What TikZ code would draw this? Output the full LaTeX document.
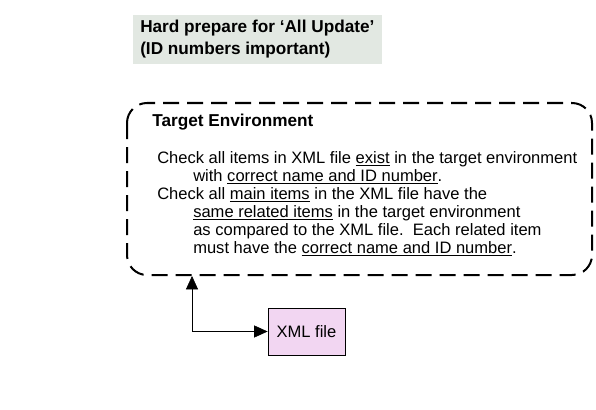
\documentclass[tikz,border=0pt]{standalone}
\usepackage{fontspec}
\setmainfont{Liberation Sans}
\usetikzlibrary{arrows.meta}

\definecolor{titlegray}{RGB}{226,232,226}
\definecolor{filepink}{RGB}{242,214,242}

\begin{document}
\begin{tikzpicture}[x=0.75pt,y=-0.75pt]
    \tikzset{line/.style    = {anchor=base west, inner sep=0pt,
        font=\fontsize{12.4}{14}\selectfont},
      heading/.style = {line, font=\bfseries\fontsize{12.9}{15}\selectfont},
      envbox/.style = {draw, line width=1.5pt, dash pattern=on 12pt off 6pt,
        rounded corners=15pt},
      link/.style   = {thin, {Triangle[length=10pt,width=9pt]}-{Triangle[length=10pt,width=9pt]}}}
    
    \useasboundingbox (0,0) rectangle (596,410);
    
    % Title banner.
    \fill[titlegray] (133,15) rectangle (382,64);
    \node[heading] (title1) at (140,33) {Hard prepare for ‘All Update’};
    \node[heading] (title2) at (140,55) {(ID numbers important)};
    
    % The target environment.
    \draw[envbox] (127,103) rectangle (592,275);
    \coordinate (env) at (192,276);
    \node[heading] (envname) at (152,127) {Target Environment};
    
    \def\Cx{157};
    \def\Ix{193};
    \node[line] (l1) at (\Cx,163) {Check all items in XML file \underline{exist} in the target environment};
    \node[line] (l2) at (\Ix,181) {with \underline{correct name and ID number}.};
    \node[line] (l3) at (\Cx,199) {Check all \underline{main items} in the XML file have the};
    \node[line] (l4) at (\Ix,217) {\underline{same related items} in the target environment};
    \node[line] (l5) at (\Ix,235) {as compared to the XML file.\ \ Each related item};
    \node[line] (l6) at (\Ix,253) {must have the \underline{correct name and ID number}.};
    
    % The XML file.
    \node[draw, thin, fill=filepink, minimum width=58pt, minimum height=35pt,
      font=\fontsize{12.4}{14}\selectfont] (xml) at (306.5,331.5) {XML file};
    
    \draw[link] (xml.west) -| (env);
  \end{tikzpicture}
\end{document}
